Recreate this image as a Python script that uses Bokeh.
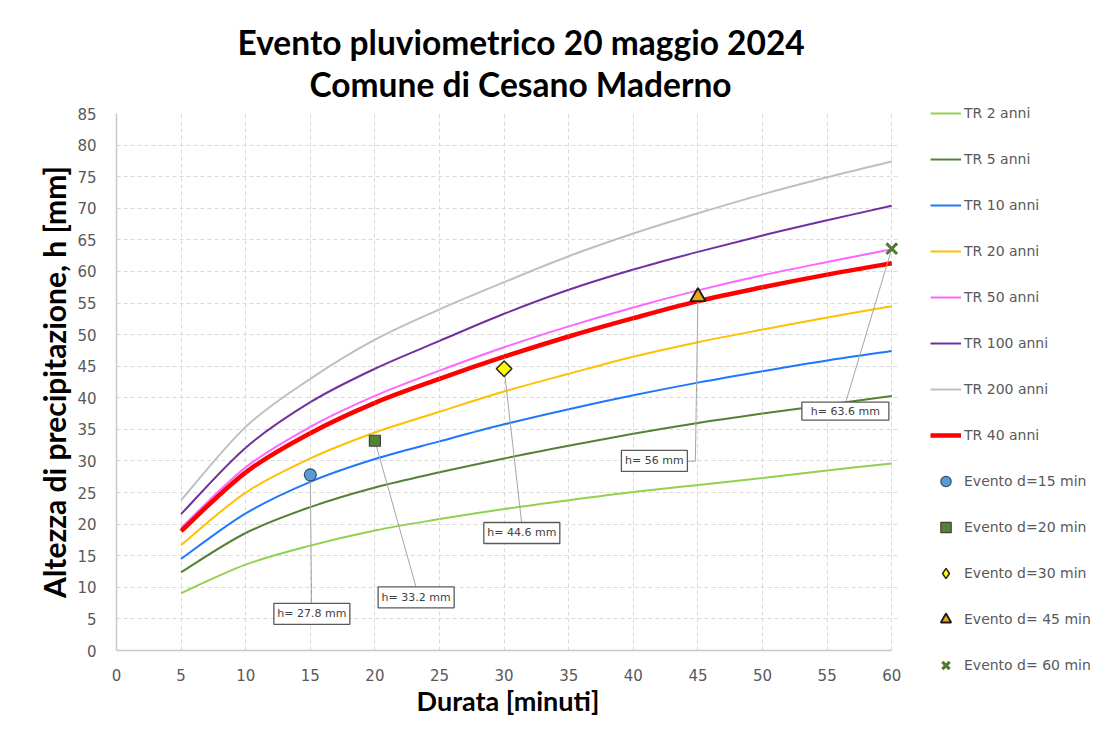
from bokeh.plotting import figure
from bokeh.layouts import row
from bokeh.models import Range1d, Legend, LegendItem, SingleIntervalTicker, ColumnDataSource, Title
from bokeh.core.properties import value
from bokeh.embed import file_html
from bokeh.resources import INLINE

# ---------------- data ----------------
durata = [5, 10, 15, 20, 25, 30, 35, 40, 45, 50, 55, 60]

tr2 = [9.1, 13.6, 16.6, 19.0, 20.8, 22.4, 23.8, 25.1, 26.2, 27.3, 28.5, 29.6]
tr5 = [12.4, 18.6, 22.7, 25.8, 28.2, 30.4, 32.4, 34.3, 36.0, 37.5, 38.9, 40.3]
tr10 = [14.5, 21.7, 26.7, 30.3, 33.1, 35.8, 38.2, 40.4, 42.4, 44.2, 45.9, 47.4]
tr20 = [16.7, 25.0, 30.4, 34.5, 37.8, 41.0, 43.8, 46.5, 48.8, 50.8, 52.7, 54.5]
tr50 = [19.4, 29.0, 35.4, 40.3, 44.3, 48.0, 51.3, 54.3, 57.0, 59.4, 61.5, 63.5]
tr100 = [21.6, 32.1, 39.3, 44.6, 49.0, 53.3, 57.1, 60.3, 63.1, 65.7, 68.1, 70.4]
tr200 = [23.8, 35.4, 43.0, 49.2, 54.0, 58.3, 62.4, 66.0, 69.2, 72.2, 74.9, 77.4]
tr40 = [18.9, 28.2, 34.4, 39.2, 43.0, 46.5, 49.7, 52.6, 55.3, 57.5, 59.5, 61.3]

serie_nomi = ["TR 2 anni", "TR 5 anni", "TR 10 anni", "TR 20 anni",
              "TR 50 anni", "TR 100 anni", "TR 200 anni", "TR 40 anni"]

evento_durata = [15, 20, 30, 45, 60]
evento_h = [27.8, 33.2, 44.6, 56.0, 63.6]
evento_nomi = ["Evento d=15 min", "Evento d=20 min", "Evento d=30 min",
               "Evento d= 45 min", "Evento d= 60 min"]
evento_testi = ["h= 27.8 mm", "h= 33.2 mm", "h= 44.6 mm", "h= 56 mm", "h= 63.6 mm"]

titolo_1 = "Evento pluviometrico 20 maggio 2024"
titolo_2 = "Comune di Cesano Maderno"
asse_x = "Durata [minuti]"
asse_y = "Altezza di precipitazione, h [mm]"
x_ticks_step = 5
y_ticks_step = 5

# ---------------- styles / layout ----------------
serie_valori = [tr2, tr5, tr10, tr20, tr50, tr100, tr200, tr40]
serie_colori = ["#92d050", "#548235", "#1f77ff", "#ffc000",
                "#ff66ff", "#7030a0", "#bfbfbf", "#ff0000"]
serie_spessori = [2, 2, 2, 2, 2, 2, 2, 4.5]

mk = [
    dict(marker="circle", size=12, fill_color="#5b9bd5", line_color="#2f4f6f", line_width=1.2),
    dict(marker="square", size=11, fill_color="#548235", line_color="#404040", line_width=1.2),
    dict(marker="square", size=11, angle=0.7854, fill_color="#ffff00", line_color="#262626", line_width=1.5),
    dict(marker="triangle", size=15, fill_color="#e6a817", line_color="#1a1a1a", line_width=1.8),
    dict(marker="x", size=15, line_color="#4e7a32", line_width=3),
]
mk_legenda = [dict(m) for m in mk]
mk_legenda[2] = dict(marker="diamond", size=15, fill_color="#ffff00", line_color="#262626", line_width=1.5)

# callout boxes: centre (data units), size (px) ; leader end points (data units)
box_cx = [15.12, 23.19, 31.37, 41.63, 56.41]
box_cy = [5.81, 8.42, 18.6, 30.0, 37.9]
box_w = [76, 76, 76, 66, 87]
box_h = [21, 21, 21, 21, 18]
leader_xs = [[15.0, 15.1], [20.0, 23.17], [30.0, 31.35], [45.0, 44.8, 44.18], [60.0, 56.44]]
leader_ys = [[27.8, 7.49], [33.2, 10.13], [44.6, 20.3], [56.0, 29.96, 29.96], [63.6, 39.3]]

H = 719
W1, W2 = 905, 190
p = figure(width=W1, height=H, x_range=Range1d(0, 60.6), y_range=Range1d(0, 85),
           output_backend="svg", toolbar_location=None,
           min_border_left=116, min_border_right=6, min_border_top=113, min_border_bottom=69)
p.frame_align = False
p.outline_line_color = None
p.background_fill_color = "white"
p.border_fill_color = "white"

# titles (added titles are placed closer to the frame)
p.title.text = titolo_1
p.title.align = "left"
p.title.offset = 121
p.title.text_font = "Lato"
p.title.text_font_size = "33.5px"
p.title.text_font_style = "bold"
p.title.text_color = "#000000"
p.title.standoff = -20
p.add_layout(Title(text=titolo_2, align="left", offset=193, text_font="Lato",
                   text_font_size="33.5px", text_font_style="bold", text_color="#000000",
                   standoff=20), "above")

for ax in (p.xaxis[0], p.yaxis[0]):
    ax.major_tick_out = 0
    ax.major_tick_in = 0
    ax.minor_tick_out = 0
    ax.minor_tick_in = 0
    ax.axis_line_color = "#c8c8c8"
    ax.axis_line_width = 1.5
    ax.major_label_text_font = "DejaVu Sans"
    ax.major_label_text_font_size = "15px"
    ax.major_label_text_color = "#595959"
    ax.major_label_standoff = 20
    ax.axis_label_text_font = "Lato"
    ax.axis_label_text_font_style = "bold"
    ax.axis_label_text_color = "#000000"
p.xaxis[0].ticker = SingleIntervalTicker(interval=x_ticks_step)
p.yaxis[0].ticker = SingleIntervalTicker(interval=y_ticks_step)
p.xaxis[0].bounds = (0, 60)
p.xaxis[0].major_label_standoff = 18
p.xaxis[0].axis_label = asse_x
p.xaxis[0].axis_label_text_font_size = "27px"
p.xaxis[0].axis_label_standoff = 0
p.yaxis[0].axis_label = asse_y
p.yaxis[0].axis_label_text_font_size = "30px"
p.yaxis[0].axis_label_standoff = 2

for g in (p.xgrid[0], p.ygrid[0]):
    g.grid_line_color = "#d9d9d9"
    g.grid_line_dash = "4 3"
    g.grid_line_width = 1
p.xgrid[0].bounds = (0, 60)


def smooth_segments(xs, ys):
    n = len(xs)
    d = dict(x0=[], y0=[], x1=[], y1=[], cx0=[], cy0=[], cx1=[], cy1=[])
    for i in range(n - 1):
        im = max(i - 1, 0)
        ip = min(i + 2, n - 1)
        d["x0"].append(xs[i]); d["y0"].append(ys[i])
        d["x1"].append(xs[i + 1]); d["y1"].append(ys[i + 1])
        d["cx0"].append(xs[i] + (xs[i + 1] - xs[im]) / 6.0)
        d["cy0"].append(ys[i] + (ys[i + 1] - ys[im]) / 6.0)
        d["cx1"].append(xs[i + 1] - (xs[ip] - xs[i]) / 6.0)
        d["cy1"].append(ys[i + 1] - (ys[ip] - ys[i]) / 6.0)
    return ColumnDataSource(d)


for vals, col, lw in zip(serie_valori, serie_colori, serie_spessori):
    src = smooth_segments(durata, vals)
    p.bezier(x0="x0", y0="y0", x1="x1", y1="y1", cx0="cx0", cy0="cy0",
             cx1="cx1", cy1="cy1", source=src, line_color=col, line_width=lw)

# leader lines
p.multi_line(xs=leader_xs, ys=leader_ys, line_color="#a6a6a6", line_width=1)

# callout boxes
p.rect(x=box_cx, y=box_cy, width=box_w, height=box_h, width_units="screen",
       height_units="screen", fill_color="white", line_color="#595959", line_width=1.3)
p.text(x=box_cx, y=box_cy, text=evento_testi, text_align="center", text_baseline="middle",
       text_font=value("DejaVu Sans"), text_font_size="11px", text_color="#404040")

# event markers
for i, (xd, yd) in enumerate(zip(evento_durata, evento_h)):
    p.scatter(x=[xd], y=[yd], **mk[i])

# ---------------- legend panel (separate canvas to the right) ----------------
# same series, but the canvas ranges keep them out of view: only the legend shows
q = figure(width=W2, height=H, x_range=Range1d(-2, -1), y_range=Range1d(-2, -1),
           output_backend="svg", toolbar_location=None,
           x_axis_location=None, y_axis_location=None,
           min_border_left=0, min_border_right=0, min_border_top=0, min_border_bottom=0)
q.frame_align = False
q.outline_line_color = None
q.xgrid.visible = False
q.ygrid.visible = False
q.border_fill_color = "white"
q.background_fill_color = "white"

items = []
for nome, vals, col, lw in zip(serie_nomi, serie_valori, serie_colori, serie_spessori):
    r = q.line(x=durata, y=vals, line_color=col, line_width=lw)
    items.append(LegendItem(label=nome, renderers=[r]))
for i, (xd, yd, nome) in enumerate(zip(evento_durata, evento_h, evento_nomi)):
    r = q.scatter(x=[xd], y=[yd], **mk_legenda[i])
    items.append(LegendItem(label=nome, renderers=[r]))

legend = Legend(items=items, location=(25, 41), padding=0, margin=0, spacing=20,
                glyph_width=31, glyph_height=26, label_height=26, label_standoff=3,
                label_text_font="DejaVu Sans", label_text_font_size="14px",
                label_text_color="#595959", border_line_color=None,
                background_fill_alpha=0)
q.add_layout(legend)

layout = row(p, q)
open("out.html", "w").write(file_html(layout, INLINE))
